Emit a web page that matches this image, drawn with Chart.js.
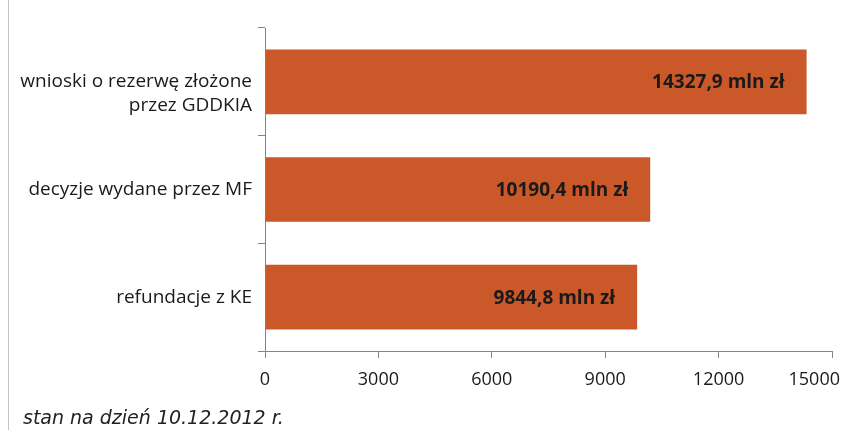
<!DOCTYPE html>
<html>
<head>
<meta charset="utf-8">
<script src="https://cdn.jsdelivr.net/npm/chart.js@4.4.1/dist/chart.umd.min.js"></script>
<style>
  html, body { margin: 0; padding: 0; background: #fff; }
  #wrap { position: relative; width: 842px; height: 430px; overflow: hidden; }
  #ramka { position: absolute; left: 8px; top: 0; height: 430px; border-left: 1px solid #c3c3c3; }
  #stan { position: absolute; left: 23px; top: 407px; font: italic 19px "DejaVu Sans"; line-height: 20px; color: #222; white-space: nowrap; }
  canvas { position: absolute; left: 0; top: 0; }
</style>
</head>
<body>
<div id="wrap">
  <div id="ramka"></div>
  <canvas id="wykres" width="842" height="430"></canvas>
  <div id="stan">stan na dzień 10.12.2012 r.</div>
</div>
<script>
/* dane */
const kategorie = ['wnioski o rezerwę złożone\nprzez GDDKIA', 'decyzje wydane przez MF', 'refundacje z KE'];
const wartosci = [14327.9, 10190.4, 9844.8];
const etykietyX = [0, 3000, 6000, 9000, 12000, 15000];

const kolorSlupka = '#ca5829';
const kolorOsi = '#858585';
const kolorTekstu = '#1a1a1a';

// etykiety wartosci w slupkach
const etykietyWartosci = {
  id: 'etykietyWartosci',
  afterDatasetsDraw(chart) {
    const ctx = chart.ctx;
    const meta = chart.getDatasetMeta(0);
    ctx.save();
    ctx.font = 'bold 19px "Open Sans"';
    ctx.fillStyle = kolorTekstu;
    ctx.textAlign = 'right';
    ctx.textBaseline = 'middle';
    meta.data.forEach((bar, i) => {
      const txt = wartosci[i].toFixed(1).replace('.', ',') + ' mln zł';
      ctx.fillText(txt, bar.x - 22, bar.y + 1);
    });
    ctx.restore();
  }
};

// opisy osi X (ostatni dosuniety do krawedzi)
const opisyOsiX = {
  id: 'opisyOsiX',
  afterDraw(chart) {
    const ctx = chart.ctx;
    const sx = chart.scales.x;
    ctx.save();
    ctx.font = '18px "Open Sans"';
    ctx.fillStyle = kolorTekstu;
    ctx.textAlign = 'center';
    ctx.textBaseline = 'alphabetic';
    etykietyX.forEach(v => {
      const txt = String(v);
      const w = ctx.measureText(txt).width;
      let x = sx.getPixelForValue(v);
      if (x + w / 2 > chart.width - 2) x = chart.width - 2 - w / 2;
      ctx.fillText(txt, x, sx.top + 34);
    });
    ctx.restore();
  }
};

const ctx = document.getElementById('wykres').getContext('2d');

const wykres = new Chart(ctx, {
  type: 'bar',
  data: {
    labels: kategorie,
    datasets: [{
      data: wartosci,
      backgroundColor: kolorSlupka,
      borderWidth: 0,
      barPercentage: 0.6,
      categoryPercentage: 1.0
    }]
  },
  options: {
    indexAxis: 'y',
    responsive: false,
    animation: false,
    layout: { padding: { top: 28, right: 10, left: 0, bottom: 0 } },
    scales: {
      x: {
        min: 0,
        max: 15000,
        afterBuildTicks: (scale) => { scale.ticks = etykietyX.map(v => ({ value: v })); },
        afterFit: (scale) => { scale.height = 79; scale.paddingLeft = 0; scale.paddingRight = 0; },
        ticks: { display: false },
        grid: { drawOnChartArea: false, drawTicks: true, tickLength: 7, color: kolorOsi },
        border: { color: kolorOsi, width: 1 }
      },
      y: {
        afterFit: (scale) => { scale.width = 265; scale.paddingTop = 0; scale.paddingBottom = 0; },
        ticks: {
          padding: 6,
          color: kolorTekstu,
          font: { family: 'Open Sans', size: 19, lineHeight: 1.27 },
          callback: function (val, i) {
            const l = kategorie[i].split('\n');
            return l.length > 1 ? [''].concat(l) : l[0];
          }
        },
        grid: { offset: true, drawOnChartArea: false, drawTicks: true, tickLength: 7, color: kolorOsi },
        border: { color: kolorOsi, width: 1 }
      }
    },
    plugins: {
      legend: { display: false },
      tooltip: { enabled: false },
      title: { display: false }
    }
  },
  plugins: [etykietyWartosci, opisyOsiX]
});
</script>
</body>
</html>
